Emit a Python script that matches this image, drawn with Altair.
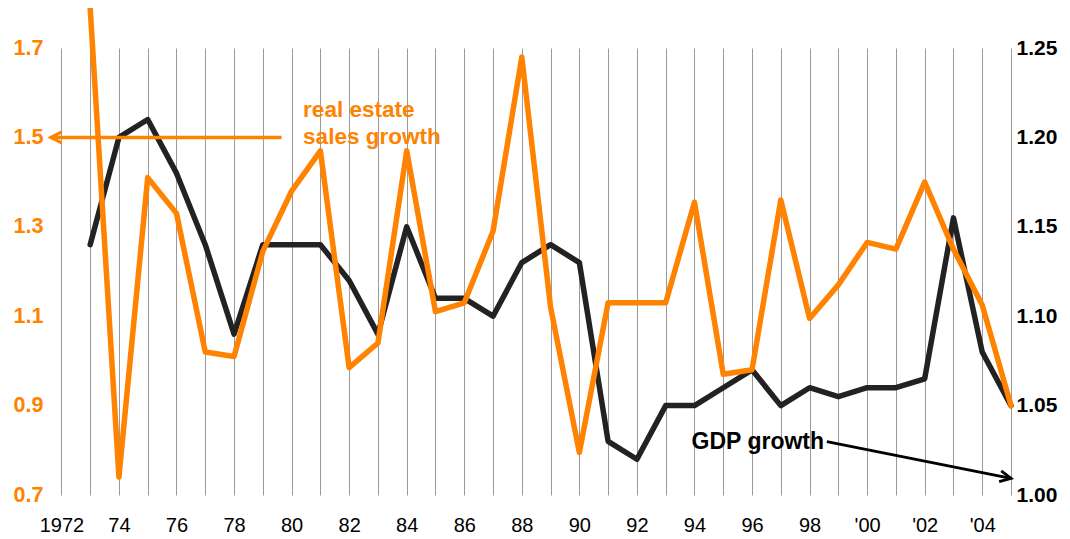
import json
import altair as alt
import pandas as pd

# ---------------- data ----------------
years = list(range(1973, 2006))

real_estate_growth = [1.79, 0.74, 1.41, 1.33, 1.02, 1.01, 1.245, 1.38, 1.47, 0.985,
                      1.04, 1.47, 1.11, 1.13, 1.29, 1.68, 1.12, 0.795, 1.13, 1.13,
                      1.13, 1.355, 0.97, 0.98, 1.36, 1.095, 1.17, 1.265, 1.25, 1.40,
                      1.25, 1.125, 0.90]

gdp_growth = [1.14, 1.20, 1.21, 1.18, 1.14, 1.09, 1.14, 1.14, 1.14, 1.12,
              1.09, 1.15, 1.11, 1.11, 1.10, 1.13, 1.14, 1.13, 1.03, 1.02,
              1.05, 1.05, 1.06, 1.07, 1.05, 1.06, 1.055, 1.06, 1.06, 1.065,
              1.155, 1.08, 1.05]

grid_years = list(range(1972, 2006))
x_tick_years = list(range(1972, 2006, 2))
x_tick_labels = ["1972", "74", "76", "78", "80", "82", "84", "86", "88", "90",
                 "92", "94", "96", "98", "'00", "'02", "'04"]

left_ticks = [0.7, 0.9, 1.1, 1.3, 1.5, 1.7]
right_ticks = [1.00, 1.05, 1.10, 1.15, 1.20, 1.25]

ORANGE = "#FF8200"
BLACK = "#222222"
FONT = "Liberation Sans"

# ---------------- scales / axes ----------------
ty = json.dumps(x_tick_years)
tl = json.dumps(x_tick_labels)
label_expr = f"indexof({ty}, datum.value) >= 0 ? {tl}[indexof({ty}, datum.value)] : ''"

x_scale = alt.Scale(domain=[1971.5, 2005], nice=False, zero=False)
x_axis = alt.Axis(values=grid_years, labelExpr=label_expr, grid=True,
                  gridColor="#9a9a9a", gridWidth=1, domain=False, ticks=False,
                  labelFontSize=20, labelFont=FONT, labelColor="black",
                  labelPadding=20, labelOverlap=False, labelFlush=False, title=None)

left_scale = alt.Scale(domain=[0.7, 1.7], nice=False, zero=False)
left_axis = alt.Axis(values=left_ticks, format=".1f", orient="left", grid=False,
                     domain=False, ticks=False, labelFontSize=21.5, labelFont=FONT,
                     labelFontWeight="bold", labelColor=ORANGE, labelPadding=4,
                     title=None)

right_scale = alt.Scale(domain=[1.0, 1.25], nice=False, zero=False)
right_axis = alt.Axis(values=right_ticks, format=".2f", orient="right", grid=False,
                      domain=False, ticks=False, labelFontSize=21, labelFont=FONT,
                      labelFontWeight="bold", labelColor="black", labelPadding=5,
                      labelAlign="left", title=None)


def X(field="year"):
    return alt.X(f"{field}:Q", scale=x_scale, axis=x_axis, title=None)


def YL(field="value"):
    return alt.Y(f"{field}:Q", scale=left_scale, axis=left_axis, title=None)


def YR(field="value"):
    return alt.Y(f"{field}:Q", scale=right_scale, axis=right_axis, title=None)


# ---------------- left (real estate) group ----------------
re_df = pd.DataFrame({"year": years, "value": real_estate_growth})
re_line = alt.Chart(re_df).mark_line(color=ORANGE, strokeWidth=5.5,
                                      strokeJoin="round", strokeCap="round").encode(
    x=X(), y=YL())

re_arrow_df = pd.DataFrame({"year": [1979.65], "year2": [1971.63], "value": [1.5]})
re_shaft = alt.Chart(re_arrow_df).mark_rule(color=ORANGE, strokeWidth=3.5).encode(
    x=X(), x2="year2:Q", y=YL())
re_head_df = pd.DataFrame({"year": [1971.63], "value": [1.5]})
re_head = alt.Chart(re_head_df).mark_point(
    shape="M2,-1L0,0L2,1", filled=False, size=121, strokeWidth=3,
    color=ORANGE, opacity=1).encode(x=X(), y=YL())

re_text_df = pd.DataFrame({"year": [1980.4, 1980.4], "value": [1.561, 1.5],
                           "text": ["real estate", "sales growth"]})
re_text = alt.Chart(re_text_df).mark_text(
    align="left", baseline="middle", fontSize=22.5, fontWeight="bold",
    font=FONT, color=ORANGE).encode(x=X(), y=YL(), text="text:N")

left_group = alt.layer(re_line, re_shaft, re_head, re_text)

# ---------------- right (GDP) group ----------------
gdp_df = pd.DataFrame({"year": years, "value": gdp_growth})
gdp_line = alt.Chart(gdp_df).mark_line(color=BLACK, strokeWidth=5.5,
                                        strokeJoin="round", strokeCap="round").encode(
    x=X(), y=YR())

gdp_arrow_df = pd.DataFrame({"year": [1998.6, 2005.0], "value": [1.0298, 1.0093]})
gdp_shaft = alt.Chart(gdp_arrow_df).mark_line(color="black", strokeWidth=2.8).encode(
    x=X(), y=YR())
gdp_head_df = pd.DataFrame({"year": [2005.0], "value": [1.0093]})
gdp_head = alt.Chart(gdp_head_df).mark_point(
    shape="M-2,-1L0,0L-2,1", filled=False, size=121, strokeWidth=2.8,
    angle=11, color="black", opacity=1).encode(x=X(), y=YR())

gdp_text_df = pd.DataFrame({"year": [1993.9], "value": [1.0298], "text": ["GDP growth"]})
gdp_text = alt.Chart(gdp_text_df).mark_text(
    align="left", baseline="middle", fontSize=23, fontWeight="bold",
    font=FONT, color="black").encode(x=X(), y=YR(), text="text:N")

right_group = alt.layer(gdp_line, gdp_shaft, gdp_head, gdp_text)

chart = alt.layer(right_group, left_group).resolve_scale(y="independent").properties(
    width=964, height=447,
    autosize=alt.AutoSizeParams(type="none"),
    padding={"left": 39, "top": 40, "right": 51, "bottom": 44},
).configure_view(stroke=None)

chart.save("out.html", embed_options={"renderer": "svg", "actions": False})
